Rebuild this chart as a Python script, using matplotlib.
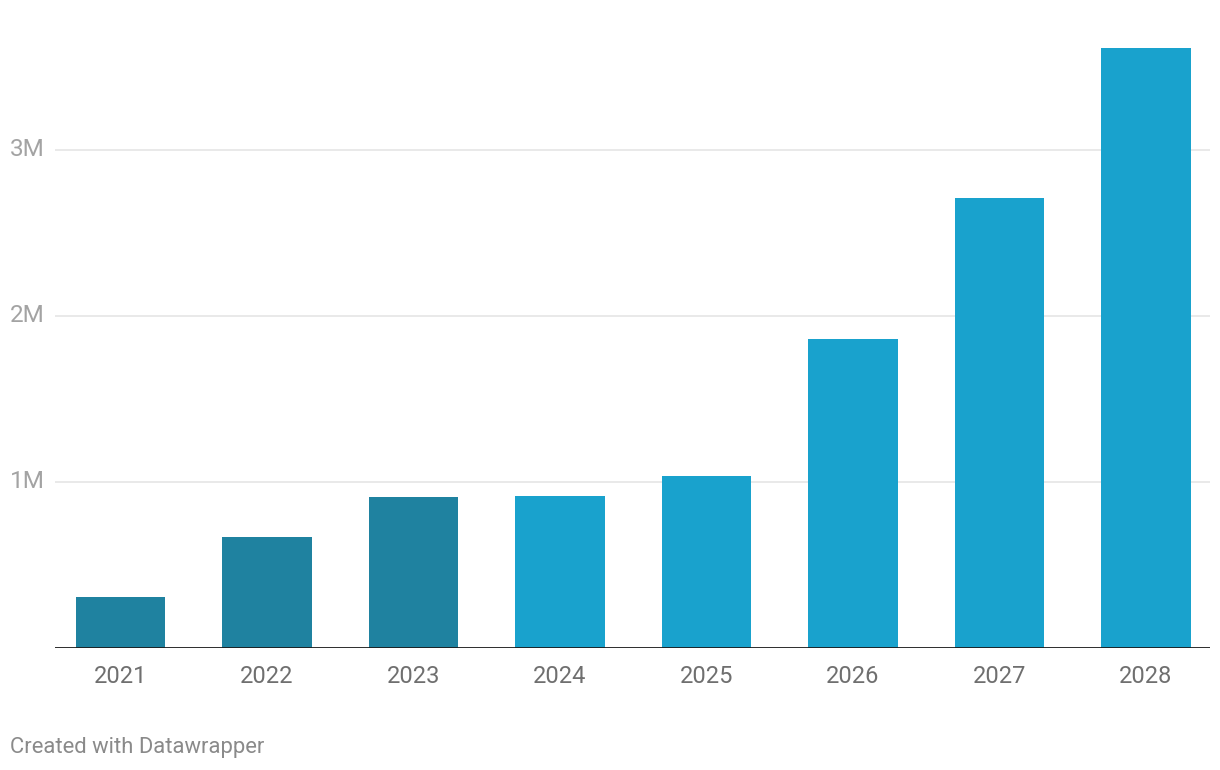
import matplotlib
matplotlib.use("Agg")
import matplotlib.pyplot as plt
import matplotlib.transforms as mtransforms

plt.rcParams['font.family'] = ['Roboto', 'DejaVu Sans']

years = ["2021", "2022", "2023", "2024", "2025", "2026", "2027", "2028"]
values = [0.307, 0.669, 0.91, 0.916, 1.036, 1.861, 2.711, 3.614]  # millions
is_actual = [True, True, True, False, False, False, False, False]
ytick_vals = [1, 2, 3]
ytick_labels = ["1M", "2M", "3M"]

dark = "#1f82a0"
light = "#19a2cd"

W, H = 1220, 770
fig = plt.figure(figsize=(W / 100, H / 100), dpi=100)
left, right = 55, 1210
bottom, top = 648, 30
ax = fig.add_axes([left / W, 1 - bottom / H, (right - left) / W, (bottom - top) / H])

px_per_unit = 166.0
ax.set_ylim(0, (bottom - top) / px_per_unit)
ax.set_xlim(-0.447, 7.437)

colors = [dark if a else light for a in is_actual]
x = list(range(len(years)))
ax.bar(x, values, width=0.611, color=colors, zorder=3)

for v in ytick_vals:
    ax.axhline(v, color="#e3e3e3", lw=1.1, zorder=1)
ax.axhline(0, color="#1a1a1a", lw=2.0, zorder=4)

for s in ax.spines.values():
    s.set_visible(False)
ax.set_yticks([])
ax.set_xticks(x)
ax.set_xticklabels(years, fontsize=17, color="#6f6f6f")
ax.tick_params(axis="x", length=0, pad=12)

trans = mtransforms.blended_transform_factory(fig.transFigure, ax.transData)
for v, lab in zip(ytick_vals, ytick_labels):
    ax.text(10 / W, v, lab, transform=trans, ha="left", va="center",
            fontsize=17.5, color="#a3a3a3")

fig.text(10 / W, 1 - 748 / H, "Created with Datawrapper", ha="left", va="center",
         fontsize=15.8, color="#8a8a8a")

fig.savefig("out.png", dpi=100)
